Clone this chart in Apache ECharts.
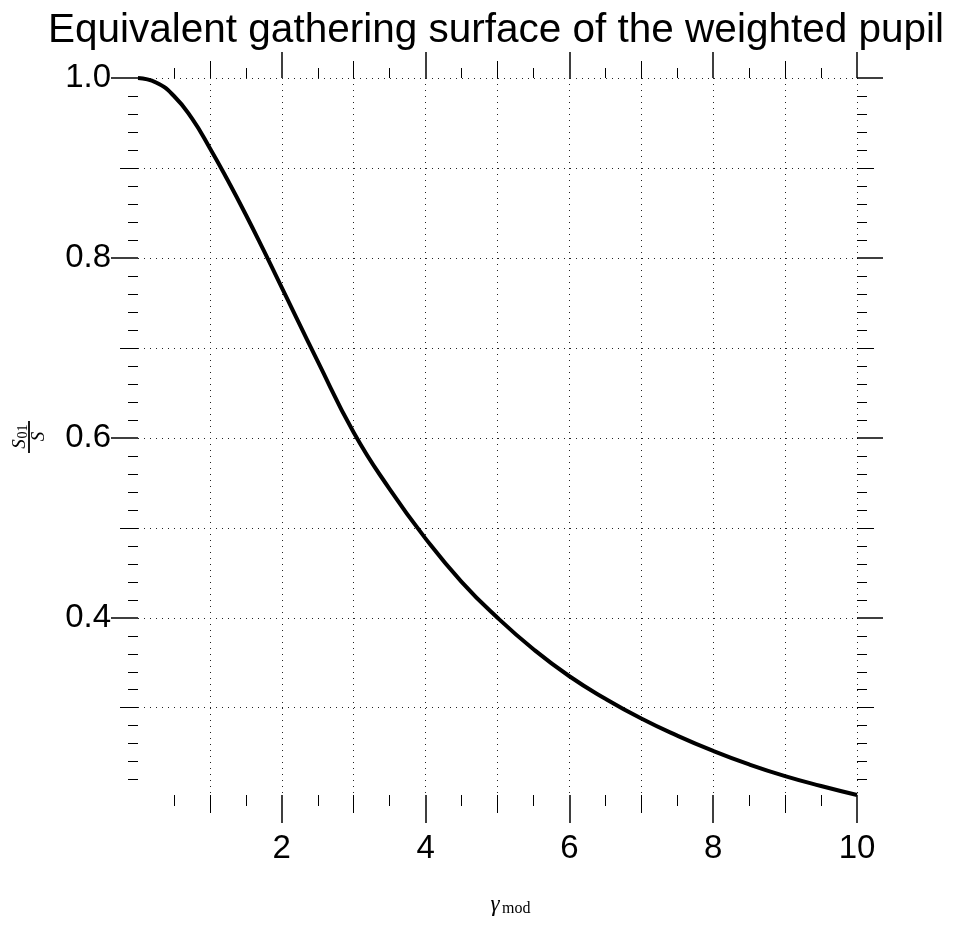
<!DOCTYPE html>
<html>
<head>
<meta charset="utf-8">
<script src="https://cdn.jsdelivr.net/npm/echarts@6/dist/echarts.min.js"></script>
<style>
html, body { margin: 0; padding: 0; background: #fff; }
#chart { width: 957px; height: 931px; }
</style>
</head>
<body>
<div id="chart"></div>
<script>
// ---------------- data ----------------
const titleText = 'Equivalent gathering surface of the weighted pupil';
const gammaValues = [0, 0.25, 0.5, 0.75, 1, 1.25, 1.5, 1.75, 2, 2.5, 3, 3.5, 4, 4.5, 5, 5.5, 6, 6.5, 7, 7.5, 8, 8.5, 9, 9.5, 10];
const ratioValues = [1.0, 0.995, 0.980, 0.955, 0.922, 0.886, 0.848, 0.808, 0.767, 0.685, 0.606, 0.543, 0.488, 0.440, 0.400, 0.365, 0.335, 0.310, 0.288, 0.269, 0.252, 0.237, 0.224, 0.213, 0.203];

const xRange = [0, 10];
const yRange = [0.203, 1.0];

const xLabelTicks = [2, 4, 6, 8, 10];
const xMidTicks = [1, 3, 5, 7, 9];
const xMinorTicks = [0.5, 1.5, 2.5, 3.5, 4.5, 5.5, 6.5, 7.5, 8.5, 9.5];

const yLabelTicks = [0.4, 0.6, 0.8, 1.0];
const yMidTicks = [0.3, 0.5, 0.7, 0.9];
const yMinorTicks = [0.22, 0.24, 0.26, 0.28, 0.32, 0.34, 0.36, 0.38, 0.42, 0.44, 0.46, 0.48,
                     0.52, 0.54, 0.56, 0.58, 0.62, 0.64, 0.66, 0.68, 0.72, 0.74, 0.76, 0.78,
                     0.82, 0.84, 0.86, 0.88, 0.92, 0.94, 0.96, 0.98];

// ---------------- chart ----------------
const chart = echarts.init(document.getElementById('chart'), null, { renderer: 'canvas' });

const labelFont = 'Liberation Sans';
const mathFont = 'Liberation Serif';

function tickAxis(kind, position, values, len, width, labels) {
  const range = kind === 'x' ? xRange : yRange;
  const ax = {
    type: 'value',
    gridIndex: 0,
    position: position,
    min: range[0],
    max: range[1],
    axisLine: { show: false, onZero: false },
    splitLine: { show: false },
    axisTick: {
      show: true,
      inside: false,
      customValues: values,
      length: len,
      lineStyle: { color: '#000', width: width }
    },
    axisLabel: { show: false }
  };
  if (labels) {
    ax.axisLabel = {
      show: true,
      customValues: values,
      margin: kind === 'x' ? 37 : 27,
      fontSize: 33,
      fontFamily: labelFont,
      color: '#000',
      formatter: kind === 'x' ? (v) => String(Math.round(v)) : (v) => v.toFixed(1)
    };
  }
  return ax;
}

const gridLineStyle = { color: '#222', width: 1, type: [1, 5] };

const xAxes = [
  tickAxis('x', 'bottom', xLabelTicks, 28, 1.5, true),
  tickAxis('x', 'bottom', xMidTicks, 18, 1, false),
  tickAxis('x', 'bottom', xMinorTicks, 11, 1, false),
  tickAxis('x', 'top', xLabelTicks, 26, 1.5, false),
  tickAxis('x', 'top', xMidTicks, 17, 1, false),
  tickAxis('x', 'top', xMinorTicks, 10, 1, false),
  {
    type: 'value', gridIndex: 0, position: 'bottom', min: xRange[0], max: xRange[1], interval: 1,
    axisLine: { show: false, onZero: false }, axisTick: { show: false }, axisLabel: { show: false },
    splitLine: { show: true, showMinLine: false, showMaxLine: true, lineStyle: gridLineStyle }
  }
];

const yAxes = [
  tickAxis('y', 'left', yLabelTicks, 27, 1.5, true),
  tickAxis('y', 'left', yMidTicks, 18, 1, false),
  tickAxis('y', 'left', yMinorTicks, 10, 1, false),
  tickAxis('y', 'right', yLabelTicks, 26, 1.5, false),
  tickAxis('y', 'right', yMidTicks, 17, 1, false),
  tickAxis('y', 'right', yMinorTicks, 10, 1, false),
  {
    type: 'value', gridIndex: 0, position: 'left', min: yRange[0], max: yRange[1], splitNumber: 8,
    axisLine: { show: false, onZero: false }, axisTick: { show: false }, axisLabel: { show: false },
    splitLine: { show: true, showMinLine: false, showMaxLine: true, lineStyle: gridLineStyle }
  }
];

const option = {
  animation: false,
  backgroundColor: '#fff',
  grid: { left: 138, right: 100, top: 78, bottom: 136, containLabel: false, outerBoundsMode: 'none' },
  xAxis: xAxes,
  yAxis: yAxes,
  series: [{
    type: 'line',
    xAxisIndex: 0,
    yAxisIndex: 0,
    data: gammaValues.map((g, i) => [g, ratioValues[i]]),
    showSymbol: false,
    smooth: 0.5,
    clip: false,
    z: 5,
    lineStyle: { color: '#000', width: 4 }
  }],
  graphic: [
    {
      type: 'text', x: 496, y: 10, z: 10,
      style: {
        text: titleText, fontSize: 40.5, fontFamily: labelFont, fill: '#000',
        align: 'center', verticalAlign: 'top', textAlign: 'center', textVerticalAlign: 'top'
      }
    },
    {
      type: 'group', x: 29, y: 437, rotation: Math.PI / 2, z: 10,
      children: [
        { type: 'rect', shape: { x: -16, y: -0.9, width: 32, height: 1.8 }, style: { fill: '#000' } },
        { type: 'text', x: -7, y: -9.5, style: { text: 'S', fontSize: 19, fontStyle: 'italic', fontFamily: mathFont, fill: '#000', align: 'center', verticalAlign: 'middle', textAlign: 'center', textVerticalAlign: 'middle' } },
        { type: 'text', x: -1.5, y: -6, style: { text: '01', fontSize: 14, fontFamily: mathFont, fill: '#000', align: 'left', verticalAlign: 'middle', textAlign: 'left', textVerticalAlign: 'middle' } },
        { type: 'text', x: 0.5, y: 9.5, style: { text: 'S', fontSize: 19, fontStyle: 'italic', fontFamily: mathFont, fill: '#000', align: 'center', verticalAlign: 'middle', textAlign: 'center', textVerticalAlign: 'middle' } }
      ]
    },
    {
      type: 'text', x: 495, y: 905, z: 10,
      style: { text: 'γ', fontSize: 23, fontStyle: 'italic', fontFamily: mathFont, fill: '#000', align: 'center', verticalAlign: 'middle', textAlign: 'center', textVerticalAlign: 'middle' }
    },
    {
      type: 'text', x: 502, y: 909, z: 10,
      style: { text: 'mod', fontSize: 16, fontFamily: mathFont, fill: '#000', align: 'left', verticalAlign: 'middle', textAlign: 'left', textVerticalAlign: 'middle' }
    }
  ]
};

chart.setOption(option);
</script>
</body>
</html>
